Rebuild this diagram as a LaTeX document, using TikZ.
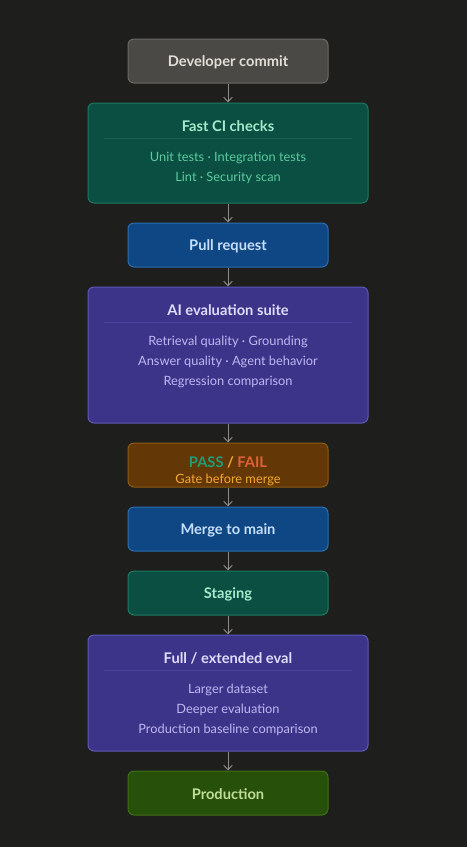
\documentclass[tikz,border=0pt]{standalone}
\usepackage{fontspec}
\setmainfont{Lato}
\usetikzlibrary{arrows.meta}

\definecolor{bg}{HTML}{1E1E1D}
\definecolor{arrowgray}{HTML}{8C8B86}
\definecolor{greyfill}{HTML}{4A4946}
\definecolor{greyline}{HTML}{6B6A66}
\definecolor{greytext}{HTML}{E2DFD7}
\definecolor{tealfill}{HTML}{0A4F41}
\definecolor{tealline}{HTML}{1C7A60}
\definecolor{tealsep}{HTML}{1A5E4E}
\definecolor{tealhead}{HTML}{A5EBCB}
\definecolor{tealtext}{HTML}{5DCAA0}
\definecolor{bluefill}{HTML}{0F4784}
\definecolor{blueline}{HTML}{2A6CB0}
\definecolor{bluetext}{HTML}{C5DFFB}
\definecolor{violetfill}{HTML}{3C3489}
\definecolor{violetline}{HTML}{5F57B8}
\definecolor{violetsep}{HTML}{4A42A0}
\definecolor{violethead}{HTML}{E0DDFB}
\definecolor{violettext}{HTML}{BEB7F2}
\definecolor{amberfill}{HTML}{633806}
\definecolor{amberline}{HTML}{8D5A12}
\definecolor{ambertext}{HTML}{F5A833}
\definecolor{passgreen}{HTML}{1D9E75}
\definecolor{failred}{HTML}{E0603A}
\definecolor{greenfill}{HTML}{27500A}
\definecolor{greenline}{HTML}{3E7013}
\definecolor{greentext}{HTML}{C0DD97}

\tikzset{
  box/.style={rounded corners=4.5pt, line width=0.75pt, inner sep=0pt},
  small/.style={box, minimum width=150pt, minimum height=33pt, font=\fontsize{11}{13}\selectfont\bfseries},
  wide/.style={box, minimum width=210pt},
  head/.style={font=\fontsize{11}{13}\selectfont\bfseries, inner sep=0pt},
  sub/.style={font=\fontsize{9.6}{11}\selectfont, inner sep=0pt},
  link/.style={draw=arrowgray, line width=0.75pt, -{Straight Barb[length=3.5pt,width=6.5pt]}},
}

\begin{document}
\begin{tikzpicture}[x=0.75pt,y=-0.75pt]
\fill[bg] (0,0) rectangle (467,847);

% single line boxes
\node[small, fill=greyfill, draw=greyline] (commit) at (228,61) {};
\node[small, fill=bluefill, draw=blueline] (pr) at (228,245) {};
\node[small, fill=amberfill, draw=amberline] (gate) at (228,465) {};
\node[small, fill=bluefill, draw=blueline] (merge) at (228,529) {};
\node[small, fill=tealfill, draw=tealline] (staging) at (228,593) {};
\node[small, fill=greenfill, draw=greenline] (prod) at (228,793) {};
\node[head, text=greytext] (commitlabel) at (228,62) {Developer commit};
\node[head, text=bluetext] (prlabel) at (228,246) {Pull request};
\node[head, text=bluetext] (mergelabel) at (228,530) {Merge to main};
\node[head, text=tealhead] (staginglabel) at (228,594) {Staging};
\node[head, text=greentext] (prodlabel) at (228,794) {Production};

% fast ci
\node[wide, minimum height=75pt, fill=tealfill, draw=tealline] (ci) at (228,153) {};
\node[head, text=tealhead] (cihead) at (228,126) {Fast CI checks};
\draw[tealsep, line width=0.75pt] (104,138.5) -- (352,138.5);
\node[sub, text=tealtext] (ci1) at (228,157.5) {Unit tests · Integration tests};
\node[sub, text=tealtext] (ci2) at (228,177.5) {Lint · Security scan};

% ai eval
\node[wide, minimum height=102pt, fill=violetfill, draw=violetline] (ai) at (228,355) {};
\node[head, text=violethead] (aihead) at (228,310) {AI evaluation suite};
\draw[violetsep, line width=0.75pt] (104,322.5) -- (352,322.5);
\node[sub, text=violettext] (ai1) at (228,341.5) {Retrieval quality · Grounding};
\node[sub, text=violettext] (ai2) at (228,361.5) {Answer quality · Agent behavior};
\node[sub, text=violettext] (ai3) at (228,381.5) {Regression comparison};

% gate text
\node[head] (gatehead) at (228,462.5)
  {\textcolor{passgreen}{PASS} \textcolor{ambertext}{/} \textcolor{failred}{FAIL}};
\node[sub, text=ambertext] (gatesub) at (228,479.5) {Gate before merge};

% full eval
\node[wide, minimum height=87pt, fill=violetfill, draw=violetline] (full) at (228,693) {};
\node[head, text=violethead] (fullhead) at (228,658) {Full / extended eval};
\draw[violetsep, line width=0.75pt] (104,670.5) -- (352,670.5);
\node[sub, text=violettext] (full1) at (228,689.5) {Larger dataset};
\node[sub, text=violettext] (full2) at (228,709.5) {Deeper evaluation};
\node[sub, text=violettext] (full3) at (228,729.5) {Production baseline comparison};

% connectors
\draw[link] (commit) -- (ci);
\draw[link] (ci) -- (pr);
\draw[link] (pr) -- (ai);
\draw[link] (ai) -- (gate);
\draw[link] (gate) -- (merge);
\draw[link] (merge) -- (staging);
\draw[link] (staging) -- (full);
\draw[link] (full) -- (prod);

\end{tikzpicture}
\end{document}
